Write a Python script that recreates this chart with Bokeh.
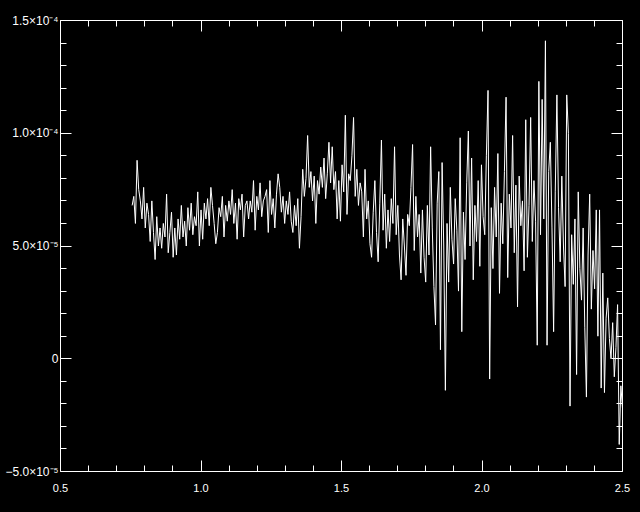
from bokeh.plotting import figure
from bokeh.models import LinearAxis, FixedTicker, Range1d
from bokeh.embed import file_html
from bokeh.resources import INLINE
import numpy as np

# ---- data (flux in units of 1e-5) ----
x_start = 0.755
x_end = 2.5
flux_1e5 = [
    6.8, 7.2, 6.0, 8.8, 7.5, 7.0, 6.2, 7.6, 5.8, 6.9,
    6.4, 5.2, 7.0, 5.6, 4.4, 6.3, 5.0, 5.8, 4.9, 6.0,
    5.4, 7.3, 4.7, 5.6, 6.5, 4.5, 5.8, 4.6, 6.2, 5.3,
    6.8, 5.4, 6.1, 5.0, 6.7, 5.7, 6.9, 5.5, 6.3, 5.9,
    7.4, 5.0, 6.6, 5.3, 6.9, 6.2, 7.1, 5.9, 7.6, 6.8,
    6.0, 5.1, 5.6, 6.7, 6.3, 7.2, 5.4, 6.8, 6.1, 7.0,
    6.4, 7.5, 6.0, 6.9, 5.3, 7.1, 6.6, 7.3, 5.4, 6.8,
    7.0, 6.2, 7.0, 6.5, 7.9, 5.7, 7.2, 6.6, 7.8, 6.3,
    7.0, 7.2, 7.5, 5.6, 7.9, 6.4, 7.1, 5.8, 7.3, 8.2,
    7.6, 6.5, 7.2, 6.0, 7.0, 6.4, 7.4, 6.1, 5.6, 6.8,
    5.9, 7.1, 4.9, 6.3, 8.4, 7.2, 8.0, 9.9, 7.6, 8.3,
    7.0, 8.1, 6.0, 7.9, 7.3, 8.5, 7.6, 8.9, 7.1, 8.2,
    9.6, 7.8, 9.4, 7.5, 8.3, 6.2, 7.9, 6.1, 8.6, 7.4,
    10.8, 6.4, 8.2, 7.9, 9.0, 10.7, 7.2, 8.4, 6.8, 7.8,
    7.4, 5.4, 8.4, 6.2, 7.0, 5.1, 4.5, 6.5, 7.9, 5.6,
    4.3, 6.9, 9.7, 5.7, 7.3, 4.9, 6.6, 5.2, 7.1, 6.0,
    9.4, 5.5, 6.8, 4.6, 3.5, 6.2, 5.0, 3.7, 6.4, 5.9,
    7.6, 9.5, 4.8, 7.2, 5.4, 6.4, 3.8, 6.6, 4.5, 3.4,
    6.8, 4.6, 9.4, 5.8, 3.2, 1.5, 6.9, 8.3, 0.4, 8.7,
    5.0, -1.4, 6.0, 3.4, 7.6, 5.3, 4.2, 7.1, 5.7, 3.0,
    9.8, 1.2, 6.5, 4.4, 7.8, 10.1, 5.0, 8.9, 3.5, 6.8,
    5.2, 7.9, 4.1, 8.6, 6.3, 5.5, 9.0, 11.9, -0.9, 6.7,
    4.0, 7.6, 5.4, 9.1, 2.9, 6.9, 5.1, 8.3, 11.6, 3.6,
    7.3, 5.8, 9.9, 4.7, 7.7, 2.3, 8.1, 5.9, 7.0, 3.9,
    10.6, 4.5, 6.8, 10.7, 5.2, 7.9, 6.1, 0.6, 12.3, 5.5,
    11.5, 6.2, 14.1, 0.6, 8.3, 9.6, 5.8, 1.2, 7.4, 11.7,
    6.7, 4.3, 8.1, 5.0, 3.2, 11.7, 10.0, -2.1, 5.5, 3.3,
    6.2, -0.7, 7.4, 4.0, 2.6, 5.8, 1.4, -1.7, 4.6, 7.3,
    2.2, 4.8, 3.1, 6.6, 1.0, 6.6, -1.3, 3.8, -1.5, 1.8,
    2.7, 0.9, 0.0, 1.6, -0.8, 0.5, 2.4, -3.8, -1.2, -2.2,
]
x_vals = np.linspace(x_start, x_end, len(flux_1e5))

x_major = [0.5, 1.0, 1.5, 2.0, 2.5]
x_minor = [0.6, 0.7, 0.8, 0.9, 1.1, 1.2, 1.3, 1.4, 1.6, 1.7, 1.8, 1.9,
           2.1, 2.2, 2.3, 2.4]
x_labels = ["0.5", "1.0", "1.5", "2.0", "2.5"]
y_major = [-5, 0, 5, 10, 15]
y_minor = [-4, -3, -2, -1, 1, 2, 3, 4, 6, 7, 8, 9, 11, 12, 13, 14]
y_labels = ["\u22125.0\u00d710\u207b\u2075", "0", "5.0\u00d710\u207b\u2075",
            "1.0\u00d710\u207b\u2074", "1.5\u00d710\u207b\u2074"]

FONT = "Liberation Sans"

p = figure(width=640, height=512, output_backend="svg", toolbar_location=None,
           x_range=Range1d(0.5, 2.5), y_range=Range1d(-5, 15),
           x_axis_location=None, y_axis_location=None,
           min_border_left=60, min_border_right=18,
           min_border_top=20, min_border_bottom=41)
p.background_fill_color = "black"
p.border_fill_color = "black"
p.outline_line_color = None
p.grid.visible = False

p.line(x_vals, flux_1e5, line_color="white", line_width=1)


def style(ax):
    ax.axis_line_color = "white"
    ax.major_tick_line_color = "white"
    ax.minor_tick_line_color = "white"
    ax.major_tick_out = 0
    ax.minor_tick_out = 0
    ax.major_tick_in = 11
    ax.minor_tick_in = 6
    ax.major_label_text_color = "white"
    ax.major_label_text_font = FONT
    ax.major_label_text_font_size = "11px"


xt = FixedTicker(ticks=x_major, minor_ticks=x_minor)
yt = FixedTicker(ticks=y_major, minor_ticks=y_minor)

bottom = LinearAxis(ticker=xt)
style(bottom)
bottom.major_label_standoff = 12
bottom.major_label_overrides = dict(zip(x_major, x_labels))
p.add_layout(bottom, "below")

left = LinearAxis(ticker=yt)
style(left)
left.major_label_text_font_size = "12px"
left.major_label_standoff = 2
left.major_label_overrides = dict(zip(y_major, y_labels))
p.add_layout(left, "left")

# mirrored tick marks (no labels) on top and right
top = LinearAxis(ticker=FixedTicker(ticks=[], minor_ticks=x_minor + x_major))
style(top)
top.minor_tick_in = 6
p.add_layout(top, "above")

right = LinearAxis(ticker=FixedTicker(ticks=[], minor_ticks=y_minor + y_major))
style(right)
right.minor_tick_in = 6
p.add_layout(right, "right")

top_major = LinearAxis(ticker=FixedTicker(ticks=[], minor_ticks=x_major))
style(top_major)
top_major.minor_tick_in = 11
top_major.axis_line_color = None
p.add_layout(top_major, "above")

right_major = LinearAxis(ticker=FixedTicker(ticks=[], minor_ticks=y_major))
style(right_major)
right_major.minor_tick_in = 11
right_major.axis_line_color = None
p.add_layout(right_major, "right")

html = file_html(p, INLINE)
html = html.replace("<body>", '<body style="background-color:#000000;">')
open("out.html", "w").write(html)
